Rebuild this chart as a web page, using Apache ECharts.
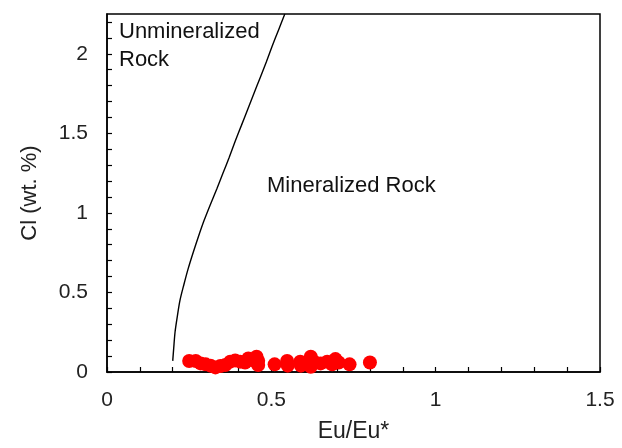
<!DOCTYPE html>
<html>
<head>
<meta charset="utf-8">
<script src="https://cdn.jsdelivr.net/npm/echarts@6/dist/echarts.min.js"></script>
<style>
  html, body { margin: 0; padding: 0; background: #fff; }
  #chart { width: 622px; height: 448px; }
</style>
</head>
<body>
<div id="chart"></div>
<script>
// Sample measurements: Eu anomaly vs chlorine content
const euRatio = [0.25, 0.27, 0.285, 0.30, 0.315, 0.33, 0.345, 0.36, 0.375, 0.39, 0.405, 0.42,
  0.43, 0.44, 0.455, 0.46, 0.46, 0.51, 0.548, 0.55, 0.588, 0.59, 0.61, 0.62, 0.62, 0.63,
  0.65, 0.67, 0.685, 0.695, 0.705, 0.738, 0.8];
const chlorine = [0.069, 0.069, 0.054, 0.048, 0.04, 0.029, 0.038, 0.044, 0.065, 0.073, 0.065, 0.06,
  0.085, 0.075, 0.096, 0.044, 0.07, 0.048, 0.069, 0.04, 0.065, 0.04, 0.048, 0.096, 0.033, 0.065,
  0.054, 0.065, 0.048, 0.081, 0.06, 0.048, 0.06];

// Boundary between unmineralized and mineralized rock
const boundaryEu = [0.2, 0.203, 0.207, 0.214, 0.222, 0.234, 0.247, 0.262, 0.278, 0.295, 0.314,
  0.334, 0.353, 0.372, 0.390, 0.409, 0.428, 0.447, 0.466, 0.485, 0.503, 0.522, 0.541];
const boundaryCl = [0.07, 0.15, 0.25, 0.35, 0.45, 0.55, 0.65, 0.75, 0.85, 0.95, 1.05,
  1.15, 1.25, 1.35, 1.45, 1.55, 1.65, 1.75, 1.85, 1.95, 2.05, 2.15, 2.25];

// Axis labels shown at major ticks only
const xTickLabels = [0, 0.5, 1, 1.5];
const yTickLabels = [0, 0.5, 1, 1.5, 2];

const FONT = 'Liberation Sans, Arial, sans-serif';
const chart = echarts.init(document.getElementById('chart'), null, { renderer: 'canvas' });

function majorOnly(list) {
  return function (v) {
    const hit = list.find(t => Math.abs(t - v) < 1e-6);
    return hit === undefined ? '' : String(hit);
  };
}

chart.setOption({
  animation: false,
  backgroundColor: '#fff',
  grid: {
    left: 107, right: 22, top: 14, bottom: 71,
    show: true, borderColor: '#000', borderWidth: 1.5, backgroundColor: 'transparent'
  },
  xAxis: {
    type: 'value', min: 0, max: 1.5, interval: 0.1,
    name: 'Eu/Eu*', nameLocation: 'middle', nameGap: 48,
    nameTextStyle: { fontFamily: FONT, fontSize: 23, color: '#222' },
    axisLine: { lineStyle: { color: '#000', width: 1.5 } },
    axisTick: { inside: true, length: 5, lineStyle: { color: '#000', width: 1.2 } },
    axisLabel: { formatter: majorOnly(xTickLabels), fontFamily: FONT, fontSize: 21, color: '#222', margin: 18 },
    splitLine: { show: false }
  },
  yAxis: {
    type: 'value', min: 0, max: 2.25, interval: 0.1,
    name: 'Cl (wt. %)', nameLocation: 'middle', nameGap: 66,
    nameTextStyle: { fontFamily: FONT, fontSize: 22, color: '#222' },
    axisLine: { lineStyle: { color: '#000', width: 1.5 } },
    axisTick: { inside: true, length: 5, lineStyle: { color: '#000', width: 1.2 } },
    axisLabel: { formatter: majorOnly(yTickLabels), fontFamily: FONT, fontSize: 21, color: '#222', margin: 19, showMaxLabel: false },
    splitLine: { show: false }
  },
  series: [
    {
      type: 'line',
      data: boundaryEu.map((x, i) => [x, boundaryCl[i]]),
      smooth: 0.3, showSymbol: false, symbol: 'none',
      lineStyle: { color: '#000', width: 1.4 },
      clip: true, z: 2
    },
    {
      type: 'scatter',
      data: euRatio.map((x, i) => [x, chlorine[i]]),
      symbol: 'circle', symbolSize: 14,
      itemStyle: { color: '#ff0000', opacity: 1 },
      z: 3
    }
  ],
  graphic: [
    { type: 'text', x: 119, y: 32, style: { text: 'Unmineralized', font: '22px ' + FONT, fill: '#111', verticalAlign: 'middle' } },
    { type: 'text', x: 119, y: 60, style: { text: 'Rock', font: '22px ' + FONT, fill: '#111', verticalAlign: 'middle' } },
    { type: 'text', x: 267, y: 186, style: { text: 'Mineralized Rock', font: '22px ' + FONT, fill: '#111', verticalAlign: 'middle' } }
  ]
});
</script>
</body>
</html>
